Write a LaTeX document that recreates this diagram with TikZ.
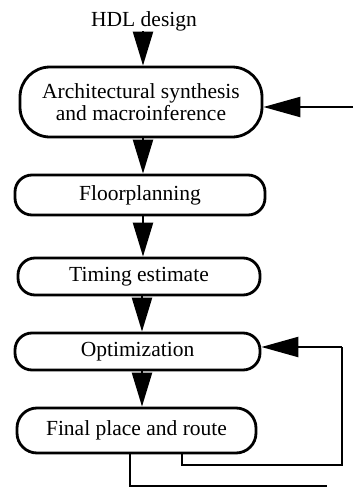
\documentclass[tikz,border=0pt]{standalone}
\usepackage{fontspec}
\setmainfont{Liberation Serif}
\usetikzlibrary{arrows.meta}
\begin{document}
\begin{tikzpicture}[x=1pt,y=-1pt,
  box/.style={draw,line width=2.8pt,rounded corners=#1,inner sep=0pt,
    font=\fontsize{21.5}{23}\selectfont,align=center},
  box/.default=17pt,
  arr/.style={line width=2.3pt,-{Triangle[length=34pt,width=20pt]}},
  harr/.style={line width=2.3pt,-{Triangle[length=37pt,width=20pt]}},
  fb/.style={line width=2.5pt},
  thinl/.style={line width=1.6pt}]
\useasboundingbox (0,0) rectangle (354,488);
\node[font=\fontsize{21.5}{23}\selectfont,anchor=base,inner sep=0pt] (hdl) at (144,26) {HDL design};
\node[box=30pt,minimum width=242pt,minimum height=70pt] (b1) at (141,102)
  {Architectural synthesis\\[-1pt]and macroinference};
\node[box,minimum width=250pt,minimum height=40pt] (b2) at (140,195) {Floorplanning};
\node[box,minimum width=242pt,minimum height=37pt] (b3) at (139,276.5) {Timing estimate};
\node[box,minimum width=245pt,minimum height=37pt] (b4) at (137.5,351.5) {Optimization};
\node[box=20pt,minimum width=239pt,minimum height=45pt] (b5) at (136.5,430.5) {Final place and route};
\coordinate (ax) at (143,0);
\coordinate (bx) at (142,0);
\draw[arr] (ax |- 0,31) -- (b1.north -| ax);
\draw[arr] (b1.south -| ax) -- (b2.north -| ax);
\draw[arr] (b2.south -| ax) -- (b3.north -| ax);
\draw[arr] (b3.south -| bx) -- (b4.north -| bx);
\draw[arr] (b4.south -| bx) -- (b5.north -| bx);
\coordinate (in1) at (353,107);
\draw[harr] (in1) -- (b1.east |- in1);
\coordinate (f1) at (182,465);
\coordinate (f2) at (342,347);
\draw[fb] (b5.south -| f1) -- (f1) -| (f2);
\draw[harr] (f2) -- (b4.east |- f2);
\coordinate (g1) at (130,486);
\coordinate (g2) at (327,486);
\draw[thinl] (b5.south -| g1) -- (g1) -- (g2);
\end{tikzpicture}
\end{document}
